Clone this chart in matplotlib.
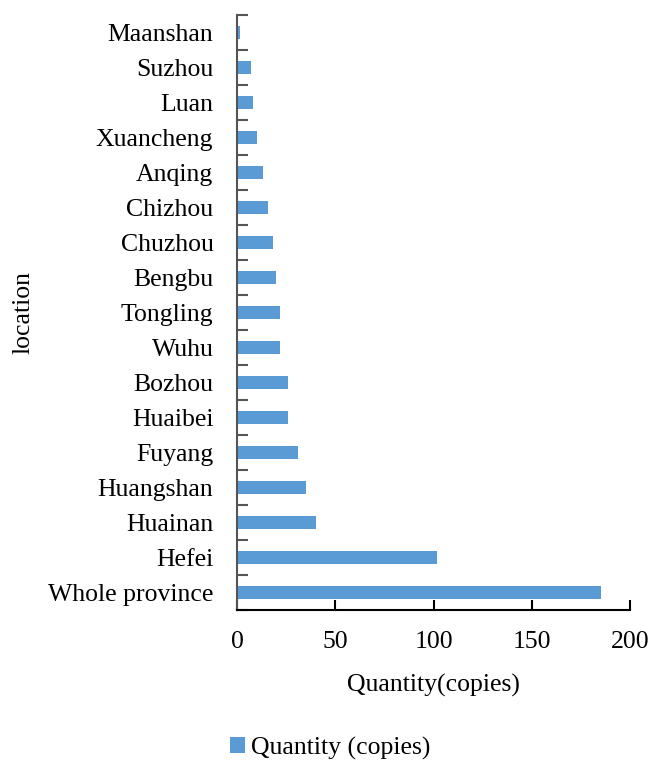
import matplotlib.pyplot as plt
import numpy as np

# categories from bottom to top
locations = ['Whole province', 'Hefei', 'Huainan', 'Huangshan', 'Fuyang', 'Huaibei',
             'Bozhou', 'Wuhu', 'Tongling', 'Bengbu', 'Chuzhou', 'Chizhou', 'Anqing',
             'Xuancheng', 'Luan', 'Suzhou', 'Maanshan']
quantity = [185, 102, 40, 35, 31, 26, 26, 22, 22, 20, 18.5, 16, 13, 10, 8, 7, 1.5]
xticks = [0, 50, 100, 150, 200]

plt.rcParams['font.family'] = ['Liberation Serif', 'DejaVu Serif']
fs = 18.5

fig = plt.figure(figsize=(6.52, 7.65), dpi=100)
ax = fig.add_axes([237/652, 1-610/765, (630-237)/652, (610-15)/765])

y = np.arange(len(locations))
bars = ax.barh(y, quantity, height=0.38, color='#5B9BD5', label='Quantity (copies)')

ax.set_xlim(0, 200)
ax.set_ylim(-0.5, len(locations) - 0.5)
ax.set_xticks(xticks)
ax.set_xticklabels([str(t) for t in xticks], fontsize=fs)
ax.set_yticks(y)
ax.set_yticklabels(locations, fontsize=fs)
ax.tick_params(axis='y', length=0, pad=17)
ax.set_yticks(np.arange(-0.5, len(locations), 1), minor=True)
ax.tick_params(axis='y', which='minor', direction='in', length=8, width=1.5, color='#555555')
ax.tick_params(axis='x', direction='in', length=7, width=1.5, pad=15)

for s in ['top', 'right']:
    ax.spines[s].set_visible(False)
ax.spines['left'].set_color('#555555')
ax.spines['left'].set_linewidth(1.5)
ax.spines['bottom'].set_linewidth(1.5)

ax.set_xlabel('Quantity(copies)', fontsize=fs)
ax.xaxis.set_label_coords(0.5, -0.107)
ax.set_ylabel('location', fontsize=fs)
ax.yaxis.set_label_coords(-0.515, 0.5)

fig.legend(handles=[bars], labels=['Quantity (copies)'], loc='center',
           bbox_to_anchor=(330/652, 1-748/765), frameon=False, fontsize=fs,
           handlelength=0.6, handleheight=0.6, handletextpad=0.2)

fig.savefig('out.png', dpi=100)
